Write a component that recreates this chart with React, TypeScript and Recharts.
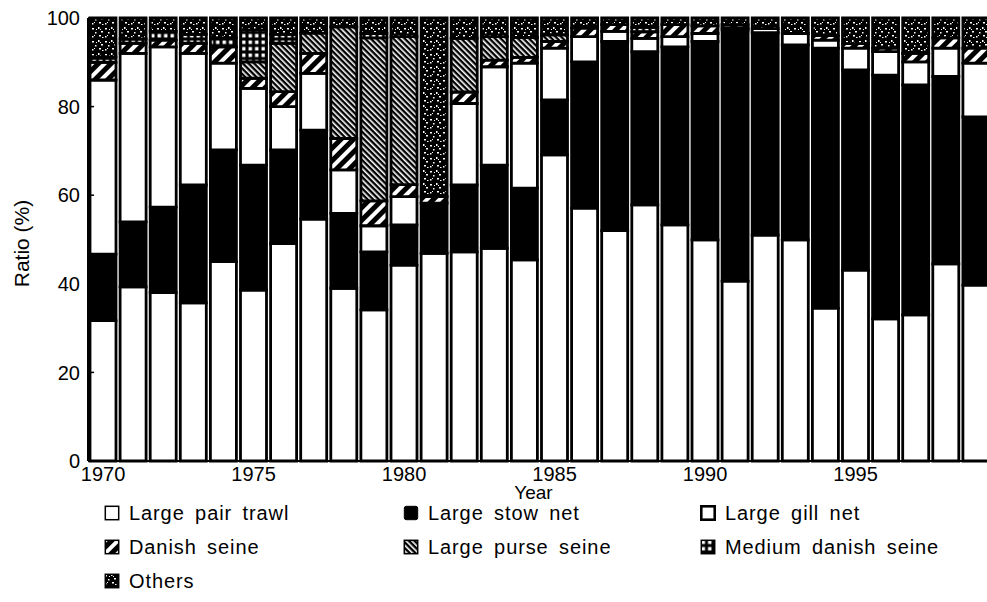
import React from 'react';
import { BarChart, Bar, XAxis, YAxis, Legend, Label } from 'recharts';

// catch composition by gear type, share of total (%)
const years = [
  '1970', '1971', '1972', '1973', '1974', '1975', '1976', '1977', '1978', '1979',
  '1980', '1981', '1982', '1983', '1984', '1985', '1986', '1987', '1988', '1989',
  '1990', '1991', '1992', '1993', '1994', '1995', '1996', '1997', '1998', '1999',
];

const largePairTrawl = [
  31.7, 39.3, 38.0, 35.7, 45.0, 38.6, 49.1, 54.6, 39.0, 34.1,
  44.2, 46.9, 47.2, 48.0, 45.4, 69.1, 57.1, 52.0, 57.8, 53.3,
  49.9, 40.6, 51.0, 49.9, 34.5, 43.1, 32.1, 33.0, 44.5, 39.7,
];
const largeStowNet = [
  15.0, 14.7, 19.3, 26.6, 25.2, 28.2, 21.1, 20.1, 16.9, 13.1,
  9.1, 11.3, 15.1, 18.8, 16.2, 12.4, 33.0, 42.7, 34.6, 40.2,
  44.8, 56.7, 45.7, 44.0, 58.7, 45.2, 55.0, 51.9, 42.3, 38.0,
];
const largeGillNet = [
  39.3, 38.0, 36.2, 29.7, 19.6, 17.3, 9.8, 12.8, 9.8, 5.9,
  6.4, 0, 18.4, 22.2, 28.2, 11.7, 5.7, 2.3, 3.0, 2.3,
  1.8, 0.5, 0.9, 2.6, 1.8, 4.9, 5.3, 5.2, 6.4, 12.1,
];
const danishSeine = [
  4.0, 2.3, 1.5, 2.3, 3.7, 2.3, 3.4, 4.5, 7.1, 5.6,
  2.7, 1.5, 2.6, 1.5, 1.3, 1.5, 1.9, 1.5, 1.5, 2.7,
  1.7, 0.7, 0, 0, 1.0, 1.0, 0.8, 1.9, 2.3, 3.4,
];
const largePurseSeine = [
  0, 0, 0, 0, 0, 3.7, 10.9, 4.6, 25.2, 36.8,
  33.4, 0, 12.1, 5.3, 4.5, 1.5, 0, 0, 0, 0,
  0, 0, 0, 0, 0, 0, 0, 0, 0, 0,
];
const mediumDanishSeine = [
  1.2, 1.0, 2.0, 2.0, 2.0, 7.2, 2.0, 0, 0, 1.0,
  0, 0, 0, 0, 0, 0, 0, 0, 1.0, 0,
  0, 0, 0, 0, 0, 0, 0, 0, 0, 0,
];
const others = [
  8.8, 4.7, 3.0, 3.7, 4.5, 2.7, 3.7, 3.4, 2.0, 3.5,
  4.2, 40.3, 4.6, 4.2, 4.4, 3.8, 2.3, 1.5, 2.1, 1.5,
  1.8, 1.5, 2.4, 3.5, 4.0, 5.8, 6.8, 8.0, 4.5, 6.8,
];

const yTicks = [0, 20, 40, 60, 80, 100];

type Series = {
  key: string;
  name: string;
  values: number[];
  fill: string;
  iconStroke: number;
};

// stacked bottom to top
const series: Series[] = [
  { key: 'pairTrawl', name: 'Large pair trawl', values: largePairTrawl, fill: '#fff', iconStroke: 1.5 },
  { key: 'stowNet', name: 'Large stow net', values: largeStowNet, fill: '#000', iconStroke: 1 },
  { key: 'gillNet', name: 'Large gill net', values: largeGillNet, fill: '#fff', iconStroke: 2.6 },
  { key: 'danish', name: 'Danish seine', values: danishSeine, fill: 'url(#pat-danish)', iconStroke: 1.5 },
  { key: 'purse', name: 'Large purse seine', values: largePurseSeine, fill: 'url(#pat-purse)', iconStroke: 1.5 },
  { key: 'medium', name: 'Medium danish seine', values: mediumDanishSeine, fill: 'url(#pat-medium)', iconStroke: 1.5 },
  { key: 'others', name: 'Others', values: others, fill: 'url(#pat-others)', iconStroke: 1.5 },
];

const data = years.map((year, i) => {
  const row: Record<string, string | number> = { year };
  series.forEach((s) => {
    row[s.key] = s.values[i];
  });
  return row;
});

// white specks for the "others" stipple tile
const specks = [
  [1, 2, 2, 1.5], [7, 1, 1.5, 2], [10, 5, 2, 1.5], [4, 6, 1.5, 1.5],
  [8, 9, 2, 1.5], [1, 10, 1.5, 1.5], [5, 3, 1, 1], [11, 11, 1.5, 1],
  [3, 9, 1, 1], [9, 3, 1, 1],
];

const Patterns = () => (
  <svg width={0} height={0} style={{ position: 'absolute' }}>
    <defs>
      <pattern id="pat-danish" width={9} height={9} patternUnits="userSpaceOnUse" patternTransform="rotate(45)">
        <rect width={9} height={9} fill="#000" />
        <rect width={4} height={9} fill="#fff" />
      </pattern>
      <pattern id="pat-purse" width={4} height={4} patternUnits="userSpaceOnUse" patternTransform="rotate(-45)">
        <rect width={4} height={4} fill="#000" />
        <rect width={1.6} height={4} fill="#fff" />
      </pattern>
      <pattern id="pat-medium" width={6.5} height={6.5} patternUnits="userSpaceOnUse">
        <rect width={6.5} height={6.5} fill="#000" />
        <rect x={1.5} y={1.5} width={3.5} height={3.5} fill="#fff" />
      </pattern>
      <pattern id="pat-others" width={13} height={13} patternUnits="userSpaceOnUse">
        <rect width={13} height={13} fill="#000" />
        {specks.map(([x, y, w, h], i) => (
          <rect key={i} x={x} y={y} width={w} height={h} fill="#fff" />
        ))}
      </pattern>
    </defs>
  </svg>
);

const legendCols = [104, 403, 700];
const legendRows = [513, 547, 581];
const legendTop = 495;

const renderLegend = () => (
  <div style={{ position: 'relative', width: 987, height: 100 }}>
    {series.map((s, i) => {
      const left = legendCols[i % 3];
      const top = legendRows[Math.floor(i / 3)] - legendTop - 10;
      return (
        <div
          key={s.key}
          style={{
            position: 'absolute',
            left,
            top,
            height: 20,
            lineHeight: '20px',
            display: 'flex',
            alignItems: 'center',
            whiteSpace: 'nowrap',
            fontSize: 20,
            letterSpacing: 0.9,
            wordSpacing: 4,
            color: '#000',
          }}
        >
          <svg width={16} height={16} style={{ marginRight: 9 }}>
            <rect
              x={1.3}
              y={1.3}
              width={13.4}
              height={13.4}
              rx={s.key === 'stowNet' ? 2 : 0}
              fill={s.fill}
              stroke="#000"
              strokeWidth={s.iconStroke}
            />
          </svg>
          <span>{s.name}</span>
        </div>
      );
    })}
  </div>
);

const renderYLabel = (props: any) => {
  const vb = props.viewBox || { x: 0, y: 0, height: 0 };
  const cx = vb.x + 21;
  const cy = vb.y + vb.height / 2 + 4;
  return (
    <text
      x={cx}
      y={cy}
      transform={`rotate(-90, ${cx}, ${cy})`}
      textAnchor="middle"
      dominantBaseline="central"
      fontSize={21}
      fill="#000"
    >
      Ratio (%)
    </text>
  );
};

export default function App() {
  return (
    <div
      style={{
        position: 'fixed',
        left: 0,
        top: 0,
        width: 987,
        height: 602,
        overflow: 'hidden',
        background: '#fff',
        fontFamily: '"Liberation Sans", Arial, sans-serif',
      }}
    >
      <Patterns />
      <BarChart
        width={995}
        height={602}
        data={data}
        barSize={26}
        margin={{ top: 18, right: 4, bottom: 101, left: 0 }}
      >
        {series.map((s) => (
          <Bar
            key={s.key}
            dataKey={s.key}
            name={s.name}
            stackId="gear"
            fill={s.fill}
            stroke="#000"
            strokeWidth={2.8}
            isAnimationActive={false}
          />
        ))}
        <XAxis
          dataKey="year"
          interval={4}
          height={40}
          tickLine={false}
          tickMargin={0}
          axisLine={{ stroke: '#000', strokeWidth: 2 }}
          tick={{ fill: '#000', fontSize: 20 }}
        >
          <Label value="Year" position="insideTop" offset={25} dx={-6} fill="#000" fontSize={19} />
        </XAxis>
        <YAxis
          domain={[0, 100]}
          ticks={yTicks}
          width={88}
          tickSize={-6}
          tickMargin={14}
          axisLine={{ stroke: '#000', strokeWidth: 2 }}
          tickLine={{ stroke: '#000', strokeWidth: 1.5 }}
          tick={{ fill: '#000', fontSize: 20 }}
          label={renderYLabel}
        />
        <Legend
          layout="vertical"
          align="center"
          verticalAlign="middle"
          content={renderLegend}
          wrapperStyle={{ left: 0, top: legendTop, width: 987, height: 100 }}
        />
      </BarChart>
    </div>
  );
}
